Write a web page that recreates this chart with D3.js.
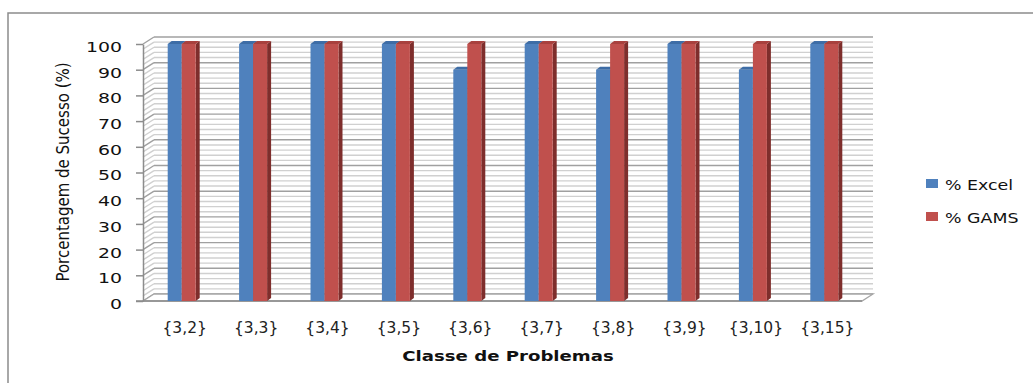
<!DOCTYPE html>
<html>
<head>
<meta charset="utf-8">
<script src="https://cdn.jsdelivr.net/npm/d3@7"></script>
<style>
  body { margin: 0; background: #fff; }
  svg { display: block; }
</style>
</head>
<body>
<div id="chart"></div>
<script>
// Data
const categories = ["{3,2}", "{3,3}", "{3,4}", "{3,5}", "{3,6}", "{3,7}", "{3,8}", "{3,9}", "{3,10}", "{3,15}"];
const excelValues = [100, 100, 100, 100, 90, 100, 90, 100, 90, 100];
const gamsValues  = [100, 100, 100, 100, 100, 100, 100, 100, 100, 100];
const seriesNames = ["% Excel", "% GAMS"];
const yTicks = [0, 10, 20, 30, 40, 50, 60, 70, 80, 90, 100];

const width = 1033;
const height = 383;

// front plane of the 3D box
const x = d3.scaleBand().domain(categories).range([146, 860]);
const y = d3.scaleLinear().domain([0, 100]).range([301, 44]);
const axisX = 143;
const wallDx = 11, wallDy = -7;   // depth of the walls
const barDx = 4, barDy = -3;      // depth of a bar
const barW = 14;

const colors = [
  { front: "#4F81BD", top: "#3E6DA6", side: "#345C8C" },
  { front: "#C0504D", top: "#A8413E", side: "#7E2E2C" }
];

const svg = d3.create("svg")
  .attr("width", width)
  .attr("height", height)
  .attr("viewBox", [0, 0, width, height]);
d3.select("#chart").append(() => svg.node());

// Outer frame
svg.append("path")
  .attr("d", `M8,${height} L8,13 L${width},13`)
  .attr("fill", "none")
  .attr("stroke", "#8c8c8c")
  .attr("stroke-width", 1.5);

// Back wall and side wall gridlines (major every 10, minor every 2)
const grid = svg.append("g");
const gridVals = d3.range(0, 101, 2);
grid.selectAll("line.back")
  .data(gridVals)
  .join("line")
  .attr("class", "back")
  .attr("x1", axisX + wallDx)
  .attr("x2", 873)
  .attr("y1", d => y(d) + wallDy)
  .attr("y2", d => y(d) + wallDy)
  .attr("stroke", d => d % 10 === 0 ? "#a0a0a0" : "#d0d0d0")
  .attr("stroke-width", 1.4);
grid.selectAll("line.side")
  .data(gridVals)
  .join("line")
  .attr("class", "side")
  .attr("x1", axisX)
  .attr("x2", axisX + wallDx)
  .attr("y1", d => y(d))
  .attr("y2", d => y(d) + wallDy)
  .attr("stroke", d => d % 10 === 0 ? "#a0a0a0" : "#d0d0d0")
  .attr("stroke-width", 1.4);

// Floor
svg.append("path")
  .attr("d", `M${axisX},${y(0)} L862,${y(0)} L${862 + wallDx},${y(0) + wallDy} L${axisX + wallDx},${y(0) + wallDy} Z`)
  .attr("fill", "#fff")
  .attr("stroke", "#a6a6a6")
  .attr("stroke-width", 1.3);
svg.append("line")
  .attr("x1", 136).attr("x2", 862)
  .attr("y1", y(0)).attr("y2", y(0))
  .attr("stroke", "#8c8c8c").attr("stroke-width", 1.5);

// Y axis
const yAxis = svg.append("g")
  .attr("transform", `translate(${axisX},0)`)
  .call(d3.axisLeft(y).tickValues(yTicks).tickSize(7).tickSizeOuter(0))
  .call(g => g.select(".domain").attr("stroke", "#8c8c8c").attr("stroke-width", 1.5))
  .call(g => g.selectAll(".tick line").attr("stroke", "#8c8c8c").attr("stroke-width", 1.5));
yAxis.selectAll(".tick text")
  .attr("x", 0)
  .attr("dy", "0.55em")
  .attr("text-anchor", "end")
  .attr("transform", "translate(-21,0) scale(1.4,1)")
  .attr("fill", "#111")
  .style("font", "13.5px 'DejaVu Sans', sans-serif");

// Bars
const series = [excelValues, gamsValues];
series.forEach((vals, si) => {
  const c = colors[si];
  const g = svg.append("g");
  const bx = (d, i) => x(categories[i]) + x.bandwidth() / 2 - barW + si * barW;
  const data = vals.map((v, i) => ({ v, i }));
  // side face
  g.selectAll("path.side").data(data).join("path")
    .attr("class", "side")
    .attr("fill", c.side)
    .attr("d", d => {
      const x0 = bx(d, d.i) + barW, yt = y(d.v), yb = y(0);
      return `M${x0},${yb} L${x0},${yt} L${x0 + barDx},${yt + barDy} L${x0 + barDx},${yb + barDy} Z`;
    });
  // front face
  g.selectAll("rect").data(data).join("rect")
    .attr("x", d => bx(d, d.i))
    .attr("y", d => y(d.v))
    .attr("width", barW)
    .attr("height", d => y(0) - y(d.v))
    .attr("fill", c.front);
  // top face
  g.selectAll("path.top").data(data).join("path")
    .attr("class", "top")
    .attr("fill", c.top)
    .attr("d", d => {
      const x0 = bx(d, d.i), yt = y(d.v);
      return `M${x0},${yt} L${x0 + barDx},${yt + barDy} L${x0 + barW + barDx},${yt + barDy} L${x0 + barW},${yt} Z`;
    });
});

// X axis labels
const xAxis = svg.append("g")
  .attr("transform", `translate(3,${y(0)})`)
  .call(d3.axisBottom(x).tickSize(0))
  .call(g => g.select(".domain").remove());
xAxis.selectAll(".tick text")
  .attr("y", 0)
  .attr("dy", 32)
  .attr("fill", "#222")
  .style("font", "15.5px 'DejaVu Sans', sans-serif");

// Axis titles
svg.append("text")
  .attr("transform", "translate(508,361) scale(1.25,1)")
  .attr("text-anchor", "middle")
  .attr("fill", "#111")
  .style("font", "bold 14.5px 'DejaVu Sans', sans-serif")
  .text("Classe de Problemas");

svg.append("text")
  .attr("transform", "translate(69,172) rotate(-90) scale(1,1.15)")
  .attr("text-anchor", "middle")
  .attr("fill", "#111")
  .style("font", "15px 'DejaVu Sans', sans-serif")
  .text("Porcentagem de Sucesso (%)");

// Legend
const legend = svg.append("g")
  .selectAll("g")
  .data(seriesNames)
  .join("g")
  .attr("transform", (d, i) => `translate(926,${179 + i * 33})`);
legend.append("rect")
  .attr("width", 12).attr("height", 9)
  .attr("fill", (d, i) => colors[i].front);
legend.append("text")
  .attr("transform", "translate(19,11) scale(1.2,1)")
  .attr("fill", "#111")
  .style("font", "14.5px 'DejaVu Sans', sans-serif")
  .text(d => d);
</script>
</body>
</html>
